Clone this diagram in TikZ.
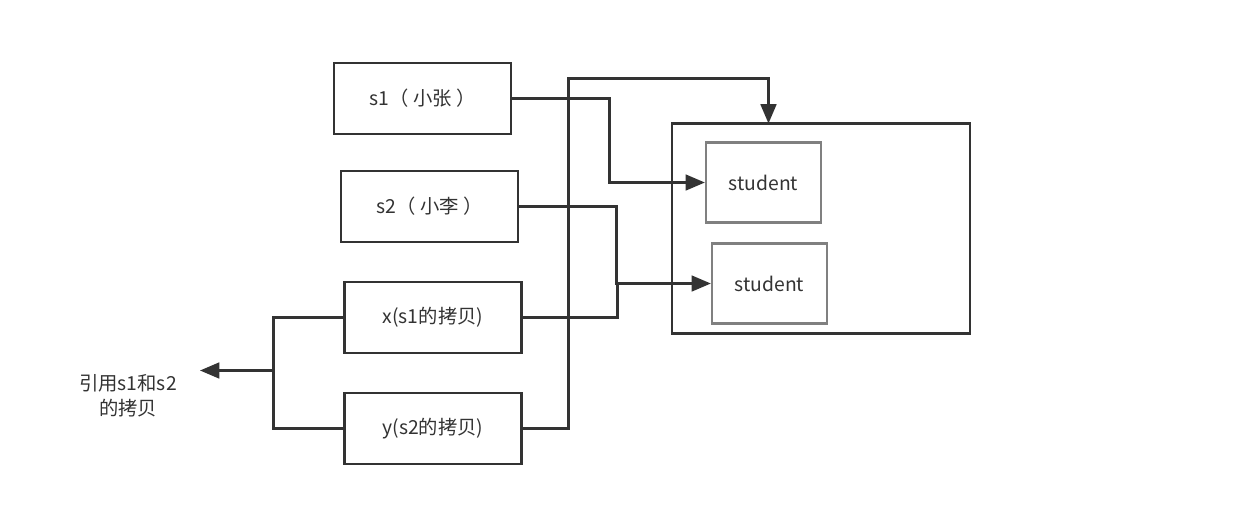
\documentclass[tikz,border=0pt]{standalone}
\usepackage{fontspec}
\setmainfont{Noto Sans CJK SC}
\usetikzlibrary{arrows.meta}
\definecolor{ink}{HTML}{333333}
\definecolor{greyline}{HTML}{808080}

\begin{document}
\begin{tikzpicture}[x=0.02cm, y=-0.02cm,
		every node/.style={font=\fontsize{11}{14}\selectfont, text=ink},
		varbox/.style={draw=ink, line width=1.3pt, minimum width=3.54cm, minimum height=1.42cm, inner sep=0pt},
		objbox/.style={draw=greyline, line width=1.3pt, minimum width=2.3cm, minimum height=1.6cm, inner sep=0pt},
		heapbox/.style={draw=ink, line width=1.3pt, minimum width=5.96cm, minimum height=4.2cm, inner sep=0pt},
		link/.style={draw=ink, line width=1.3pt},
		ptr/.style={link, -{Triangle[length=11pt, width=9pt]}}]
			\useasboundingbox (0,0) rectangle (1259,512);

			\node [heapbox] (heap) at (821,228.5) {};
			\node [objbox] (st1) at (763.5,182.5) {student};
			\node [objbox] (st2) at (769.5,283.5) {student};

			\node [varbox] (s1) at (422.5,98.5) {s1（ 小张 ）};
			\node [varbox] (s2) at (429.5,206.5) {s2（ 小李 ）};
			\node [varbox] (xc) at (433,317.5) {x(s1的拷贝)};
			\node [varbox] (yc) at (433,428.5) {y(s2的拷贝)};

			\node [align=center] (lbl) at (128,396) {引用s1和s2\\的拷贝};

			\coordinate (j2) at (617.5,283.5);
			\coordinate (top) at (768.5,78.5);
			\coordinate (heaptop) at (768.5,123.5);
			\coordinate (jl) at (274.5,370.5);
			\coordinate (tip) at (200,370.5);

			\draw [ptr] (s1.east) -- ++(97.5,0) |- (st1.west);
			\draw [ptr] (s2.east) -- ++(97.5,0) |- (st2.west);
			\draw [link] (xc.east) -| (j2);
			\draw [ptr] (yc.east) -- ++(46,0) |- (top) -- (heaptop);

			\draw [link] (xc.west) -- ++(-70,0) |- (yc.west);
			\draw [ptr] (jl) -- (tip);
		\end{tikzpicture}
\end{document}
